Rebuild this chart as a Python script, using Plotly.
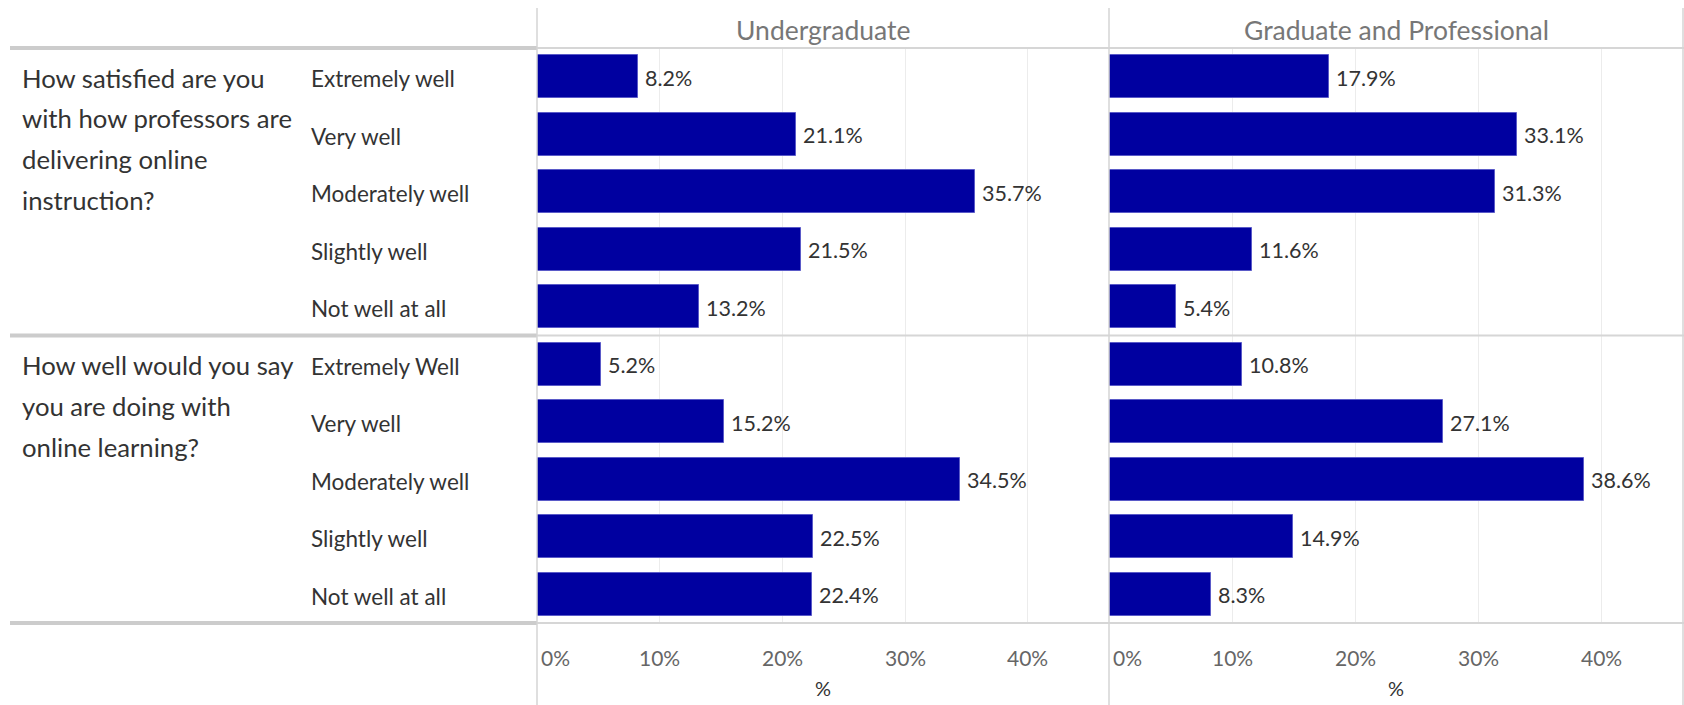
import plotly.graph_objects as go

# Survey responses (% of respondents), rows ordered top to bottom
groups = ["Undergraduate", "Graduate and Professional"]
question_lines = [
    ["How satisfied are you", "with how professors are", "delivering online", "instruction?"],
    ["How well would you say", "you are doing with", "online learning?"],
]
responses_q1 = ["Extremely well", "Very well", "Moderately well", "Slightly well", "Not well at all"]
responses_q2 = ["Extremely Well", "Very well", "Moderately well", "Slightly well", "Not well at all"]
undergraduate = [8.2, 21.1, 35.7, 21.5, 13.2, 5.2, 15.2, 34.5, 22.5, 22.4]
graduate = [17.9, 33.1, 31.3, 11.6, 5.4, 10.8, 27.1, 38.6, 14.9, 8.3]
ticks = [0, 10, 20, 30, 40]

W, H = 1684, 705
FONT = "Lato"
BAR = "#0000a0"

# pixel layout of the table
TOP, MID, BOT = 48, 335.5, 623
P1L, P1R, P2R = 537, 1109, 1683
XMAX = 46.6


def px(x):
    return x / W


def py(y):
    return 1 - y / H


rows = responses_q1 + responses_q2
idx = list(range(len(rows)))

fig = go.Figure()
for vals, ax in [(undergraduate, "x"), (graduate, "x2")]:
    fig.add_trace(go.Bar(
        x=vals, y=idx, orientation="h", width=0.75, xaxis=ax, yaxis="y",
        marker=dict(color=BAR, line=dict(color="#5a5ac8", width=1)),
        hoverinfo="skip", showlegend=False,
    ))

axis_common = dict(range=[0, XMAX], showticklabels=False, showgrid=True,
                   gridcolor="#ececec", gridwidth=1, tick0=0, dtick=10,
                   zeroline=False, showline=False, ticks="", fixedrange=True)

fig.update_layout(
    width=W, height=H,
    margin=dict(l=0, r=0, t=0, b=0),
    paper_bgcolor="white", plot_bgcolor="white",
    bargap=0,
    xaxis=dict(domain=[px(P1L), px(P1R)], anchor="y", **axis_common),
    xaxis2=dict(domain=[px(P1R), px(P2R)], anchor="y", **axis_common),
    yaxis=dict(domain=[py(BOT), py(TOP)], range=[len(rows) - 0.5, -0.5],
               showticklabels=False, showgrid=False, zeroline=False, fixedrange=True),
)

ann = []
# value labels at the end of each bar
for vals, ax in [(undergraduate, "x"), (graduate, "x2")]:
    for i, v in enumerate(vals):
        ann.append(dict(x=v, y=i, xref=ax, yref="y", text=f"{v:.1f}%",
                        xanchor="left", yanchor="middle", xshift=5, yshift=-1,
                        showarrow=False, font=dict(family=FONT, size=21.5, color="#333333")))

# response labels
for i, r in enumerate(rows):
    ann.append(dict(x=px(309), y=i, xref="paper", yref="y", text=r,
                    xanchor="left", yanchor="middle", yshift=-2, showarrow=False,
                    font=dict(family=FONT, size=22.5, color="#333333")))

# question text, one annotation per line
row_h = (BOT - TOP) / len(rows)
for q, lines in enumerate(question_lines):
    y0 = TOP + row_h * (5 * q + 0.5)
    for k, line in enumerate(lines):
        ann.append(dict(x=px(20), y=py(y0 + 1 + 40.7 * k), xref="paper", yref="paper",
                        text=line, xanchor="left", yanchor="middle", showarrow=False,
                        font=dict(family=FONT, size=25.7, color="#333333")))

# column headers, tick labels and axis titles
for g, (ax, l, r) in zip(groups, [("x", P1L, P1R), ("x2", P1R, P2R)]):
    ann.append(dict(x=px((l + r) / 2), y=py(30), xref="paper", yref="paper", text=g,
                    xanchor="center", yanchor="middle", showarrow=False,
                    font=dict(family=FONT, size=26.5, color="#777777")))
    ann.append(dict(x=px((l + r) / 2), y=py(688), xref="paper", yref="paper", text="%",
                    xanchor="center", yanchor="middle", showarrow=False,
                    font=dict(family=FONT, size=20, color="#333333")))
    for t in ticks:
        ann.append(dict(x=t, y=py(657), xref=ax, yref="paper", text=f"{t}%",
                        xanchor="left" if t == 0 else "center", xshift=2 if t == 0 else 0,
                        yanchor="middle", showarrow=False,
                        font=dict(family=FONT, size=21, color="#666666")))

shapes = []
for y in (TOP, MID, BOT):
    shapes.append(dict(type="line", xref="paper", yref="paper", x0=px(10), x1=px(P1L),
                       y0=py(y), y1=py(y), line=dict(color="#cccccc", width=4)))
    shapes.append(dict(type="line", xref="paper", yref="paper", x0=px(P1L), x1=1,
                       y0=py(y), y1=py(y), line=dict(color="#d6d6d6", width=2)))
for x in (P1L, P1R, P2R):
    shapes.append(dict(type="line", xref="paper", yref="paper", x0=px(x), x1=px(x),
                       y0=py(8), y1=0, line=dict(color="#d4d4d4", width=1.5)))

fig.update_layout(annotations=ann, shapes=shapes)
fig.write_html("out.html")
